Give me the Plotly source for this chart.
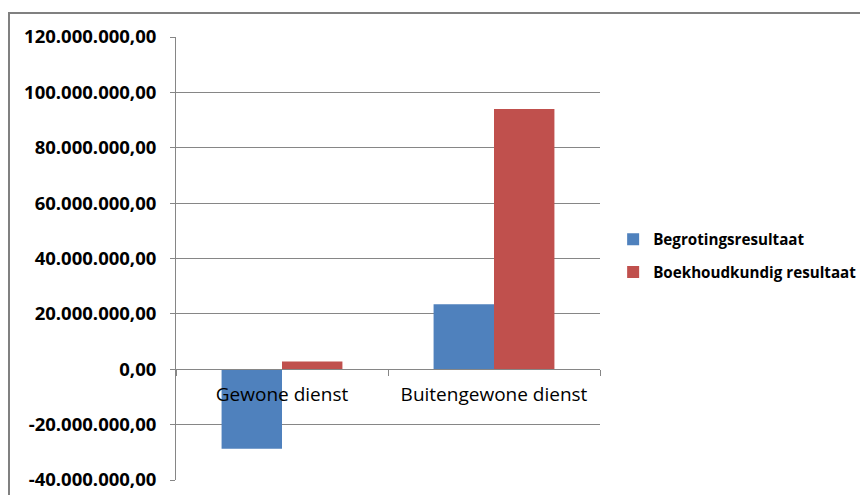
import plotly.graph_objects as go

categories = ["Gewone dienst", "Buitengewone dienst"]
begroting = [-28700000, 23500000]
boekhoud = [2800000, 94000000]
tick_vals = [-40000000, -20000000, 0, 20000000, 40000000, 60000000,
             80000000, 100000000, 120000000]
tick_text = ["-40.000.000,00", "-20.000.000,00", "0,00", "20.000.000,00",
             "40.000.000,00", "60.000.000,00", "80.000.000,00",
             "100.000.000,00", "120.000.000,00"]

grid = "#868686"

fig = go.Figure()
fig.add_trace(go.Bar(x=categories, y=begroting, name="Begrotingsresultaat",
                     legendgroup="a",
                     marker=dict(color="#4F81BD", line=dict(width=0))))
fig.add_trace(go.Bar(x=categories, y=boekhoud, name="Boekhoudkundig resultaat",
                     legendgroup="b",
                     marker=dict(color="#C0504D", line=dict(width=0))))

# page body has an 8px margin, so margins are shifted by 8px
fig.update_layout(
    width=868, height=495,
    margin=dict(l=168, r=276, t=29, b=23, autoexpand=False),
    paper_bgcolor="white", plot_bgcolor="white",
    barmode="group", bargap=0.43, bargroupgap=0,
    font=dict(family="Open Sans", color="black"),
    legend=dict(x=1.031, y=0.506, xanchor="left", yanchor="middle",
                font=dict(size=15.2, weight="bold"), tracegroupgap=10,
                itemwidth=30, traceorder="grouped"),
    xaxis=dict(anchor="free", position=0.25, showline=True, linecolor=grid,
               linewidth=1, ticks="outside", tickson="boundaries", ticklen=6,
               tickcolor=grid, tickfont=dict(size=19, color="black"),
               ticklabelstandoff=8, automargin=False,
               showgrid=False, zeroline=False),
    yaxis=dict(range=[-40000000, 120000000], tickvals=tick_vals,
               ticktext=tick_text, showgrid=True, gridcolor=grid,
               gridwidth=1, zeroline=False, showline=True, linecolor=grid,
               ticks="outside", ticklen=5, tickcolor=grid,
               ticklabelstandoff=10, automargin=False,
               tickfont=dict(size=18.5, weight="bold", color="black")),
    shapes=[dict(type="rect", xref="paper", yref="paper",
                 x0=-0.3939, x1=1.65, y0=-0.05, y1=1.054,
                 line=dict(color="#808080", width=2), layer="below")],
)

fig.write_html("out.html")
